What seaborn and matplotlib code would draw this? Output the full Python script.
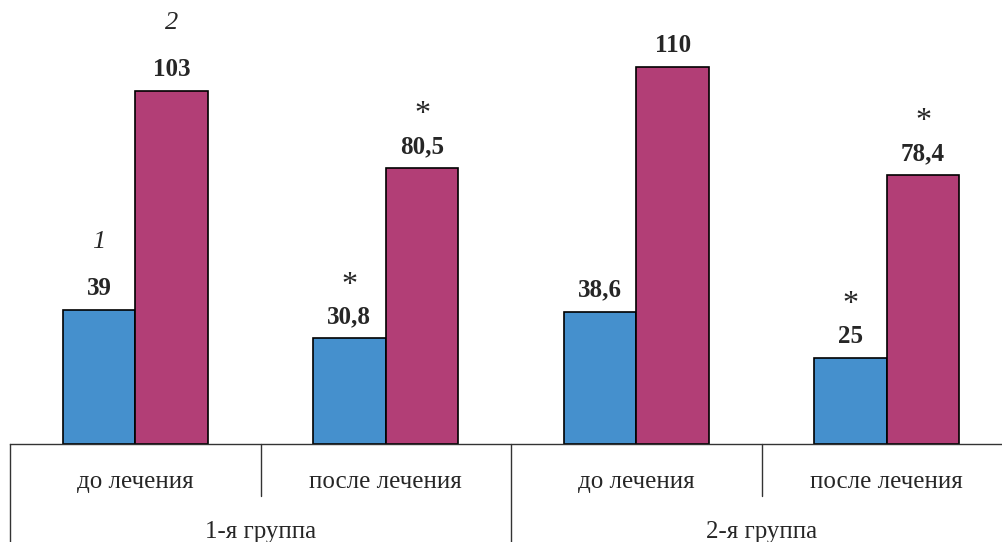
import matplotlib
matplotlib.use("Agg")
import matplotlib.pyplot as plt
import seaborn as sns
import pandas as pd

# Data
categories = ["до лечения", "после лечения", "до лечения ", "после лечения "]
groups = ["1-я группа", "2-я группа"]
series_names = ["1", "2"]
values_1 = [39, 30.8, 38.6, 25]
values_2 = [103, 80.5, 110, 78.4]
labels_1 = ["39", "30,8", "38,6", "25"]
labels_2 = ["103", "80,5", "110", "78,4"]
star_1 = [False, True, False, True]
star_2 = [False, True, False, True]

colors = ["#4590CD", "#B23E76"]

sns.set_theme(style="white")
plt.rcParams["font.family"] = ["Liberation Serif", "DejaVu Serif"]

df = pd.DataFrame({
    "cat": categories * 2,
    "series": [series_names[0]] * 4 + [series_names[1]] * 4,
    "value": values_1 + values_2,
})

fig = plt.figure(figsize=(10.02, 5.42), dpi=100)
W, H = 1002, 542
ax = fig.add_axes([10 / W, 98 / H, 1002 / W, 444 / H])

sns.barplot(data=df, x="cat", y="value", hue="series", order=categories,
            hue_order=series_names, palette=colors, width=0.58,
            edgecolor="black", linewidth=1.2, saturation=1, legend=False, ax=ax)

ax.set_xlim(-0.5, 3.5)
ax.set_ylim(0, 129.6)
ax.set_xlabel("")
ax.set_ylabel("")
ax.set_xticks([])
ax.set_yticks([])
for s in ["left", "right", "top"]:
    ax.spines[s].set_visible(False)
ax.spines["bottom"].set_color("#333333")
ax.spines["bottom"].set_linewidth(1.0)

# Value labels, significance stars, series numbers
for patch_list, labels, stars in zip(ax.containers, [labels_1, labels_2], [star_1, star_2]):
    for bar, lab, st in zip(patch_list, labels, stars):
        cx = bar.get_x() + bar.get_width() / 2
        top = bar.get_height()
        ax.annotate(lab, xy=(cx, top), xytext=(0, 11), textcoords="offset points",
                    ha="center", va="baseline", fontsize=18, fontweight="bold")
        if st:
            ax.annotate("*", xy=(cx, top), xytext=(0, 38.5), textcoords="offset points",
                        ha="center", va="center", fontsize=23)

for patch_list, name in zip(ax.containers, series_names):
    bar = patch_list[0]
    cx = bar.get_x() + bar.get_width() / 2
    ax.annotate(name, xy=(cx, bar.get_height()), xytext=(0, 49),
                textcoords="offset points", ha="center", va="center",
                fontsize=19, fontstyle="italic")

# Category and group labels below the axis
for i, cat in enumerate(categories):
    ax.annotate(cat.strip(), xy=(i, 0), xycoords=("data", "axes fraction"),
                xytext=(0, -31.7), textcoords="offset points",
                ha="center", va="baseline", fontsize=18)
for g, name in enumerate(groups):
    ax.annotate(name, xy=(2 * g + 0.5, 0), xycoords=("data", "axes fraction"),
                xytext=(0, -67.5), textcoords="offset points",
                ha="center", va="baseline", fontsize=18)

# Separator lines between categories and groups
trans = ax.get_xaxis_transform()
for x in [-0.5, 1.5, 3.5]:
    ax.plot([x, x], [0, -98 / 444], transform=trans, color="#333333",
            lw=1.0, clip_on=False)
for x in [0.5, 2.5]:
    ax.plot([x, x], [0, -52 / 444], transform=trans, color="#333333",
            lw=1.0, clip_on=False)

fig.savefig("out.png", dpi=100)
